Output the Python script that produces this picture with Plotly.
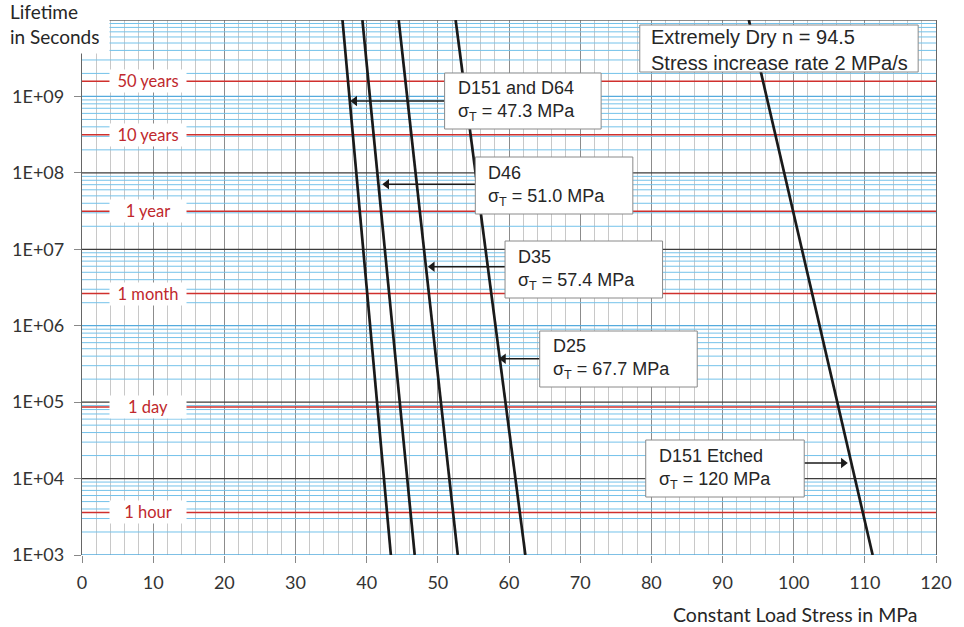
import math
import plotly.graph_objects as go

# ---------------- data ----------------
series_names = ["D151 and D64", "D46", "D35", "D25", "D151 Etched"]
sigma_T = ["47.3", "51.0", "57.4", "67.7", "120"]
lifetime_ends = [1e10, 1e3]                      # seconds (top, bottom of each line)
stress_top = [36.6, 39.4, 44.5, 52.5, 93.7]       # MPa at 1E+10 s
stress_bottom = [43.4, 46.75, 52.8, 62.3, 111.1]  # MPa at 1E+03 s

# arrows: tip on each curve, tail at the label box (stress MPa), lifetime s
arrow_tip = [37.7, 42.2, 48.6, 58.6, 107.6]
arrow_tail = [50.95, 55.27, 59.44, 64.32, 101.49]
arrow_life = [8.7e8, 7.1e7, 5.9e6, 3.7e5, 1.6e4]

time_labels = ["50 years", "10 years", "1 year", "1 month", "1 day", "1 hour"]
time_seconds = [1.5768e9, 3.1536e8, 3.1536e7, 2.6298e6, 86400, 3600]

x_ticks = list(range(0, 121, 10))
y_ticks = [1e3, 1e4, 1e5, 1e6, 1e7, 1e8, 1e9]
y_ticktext = ["1E+03", "1E+04", "1E+05", "1E+06", "1E+07", "1E+08", "1E+09"]

info_text = "Extremely Dry n = 94.5<br>Stress increase rate 2 MPa/s"

# ---------------- layout geometry (pixels) ----------------
W, H = 964, 627
PL, PR, PT, PB = 82, 944, 20, 555
PX_PER_MPA = (PR - PL) / 120


def px(xp):
    return (xp - PL) / (PR - PL)


def py(yp):
    return (PB - yp) / (PB - PT)


CAL = "Lato"
ARIAL = "Liberation Sans, Arial"

fig = go.Figure()

# horizontal minor grid (log), blue
mx, my = [], []
for d in range(3, 10):
    for m in range(2, 10):
        mx += [0, 120, None]
        my += [m * 10 ** d, m * 10 ** d, None]
fig.add_trace(go.Scatter(x=mx, y=my, mode="lines", line=dict(color="#74C2EA", width=1),
                         hoverinfo="skip", showlegend=False))
# major decade lines
bx, by, ux, uy = [], [], [], []
for d in range(3, 10):
    if d in (3, 6, 9):
        ux += [0, 120, None]
        uy += [10 ** d, 10 ** d, None]
    else:
        bx += [0, 120, None]
        by += [10 ** d, 10 ** d, None]
fig.add_trace(go.Scatter(x=ux, y=uy, mode="lines", line=dict(color="#55ABDD", width=1.3),
                         hoverinfo="skip", showlegend=False))
fig.add_trace(go.Scatter(x=bx, y=by, mode="lines", line=dict(color="#3C3C3C", width=1.3),
                         hoverinfo="skip", showlegend=False))
# top border
fig.add_trace(go.Scatter(x=[0, 120], y=[1e10, 1e10], mode="lines",
                         line=dict(color="#666666", width=1.3),
                         hoverinfo="skip", showlegend=False))
# red time lines
rx, ry = [], []
for s in time_seconds:
    rx += [0, 120, None]
    ry += [s, s, None]
fig.add_trace(go.Scatter(x=rx, y=ry, mode="lines", line=dict(color="#D0302D", width=1.5),
                         hoverinfo="skip", showlegend=False))

# lifetime curves
for name, s0, s1 in zip(series_names, stress_top, stress_bottom):
    fig.add_trace(go.Scatter(x=[s0, s1], y=lifetime_ends, mode="lines", name=name,
                             line=dict(color="#1A1A1A", width=2.7),
                             hoverinfo="skip", showlegend=False))

# arrows (line + triangle head)
HEAD = 9
for tip, tail, life in zip(arrow_tip, arrow_tail, arrow_life):
    d = 1 if tail > tip else -1
    center = tip + d * (HEAD / 2) / PX_PER_MPA
    fig.add_trace(go.Scatter(x=[tail, center], y=[life, life], mode="lines",
                             line=dict(color="#1A1A1A", width=1.5),
                             hoverinfo="skip", showlegend=False))
    fig.add_trace(go.Scatter(x=[center], y=[life], mode="markers",
                             marker=dict(symbol="triangle-left" if d == 1 else "triangle-right",
                                         size=HEAD, color="#1A1A1A", line=dict(width=0)),
                             hoverinfo="skip", showlegend=False))

# ---------------- boxes ----------------
boxes = [  # (left, top, right, bottom, text-left) in pixels
    (448, 73, 606, 129, 459),
    (479, 157, 638, 214, 490),
    (509, 241, 668, 298, 520),
    (544, 331, 703, 387, 555),
    (651, 440, 811, 497, 662),
]
shapes = []
annotations = []
for (l, t, r, b, tl), name, sg in zip(boxes, series_names, sigma_T):
    shapes.append(dict(type="rect", xref="paper", yref="paper", x0=px(l), x1=px(r),
                       y0=py(b), y1=py(t), fillcolor="white",
                       line=dict(color="#8A8A8A", width=1), layer="above"))
    annotations.append(dict(xref="paper", yref="paper", x=px(tl), y=py((t + b) / 2),
                            xanchor="left", yanchor="middle", align="left", showarrow=False,
                            text=f"{name}<br>σ<sub>T</sub> = {sg} MPa",
                            font=dict(family=ARIAL, size=18, color="#262626")))
# info box
shapes.append(dict(type="rect", xref="paper", yref="paper", x0=px(645), x1=px(926),
                   y0=py(72), y1=py(25), fillcolor="white",
                   line=dict(color="#8A8A8A", width=1), layer="above"))
annotations.append(dict(xref="paper", yref="paper", x=px(654), y=py(49.5),
                        xanchor="left", yanchor="middle", align="left", showarrow=False,
                        text=info_text, font=dict(family=ARIAL, size=20, color="#262626")))

# time labels
for lab, s in zip(time_labels, time_seconds):
    annotations.append(dict(xref="x", yref="y", x=9.3, y=math.log10(s), text=lab,
                            showarrow=False, bgcolor="white", width=72, height=18,
                            borderpad=2, font=dict(family=CAL, size=16.5, color="#C0282D")))

# axis titles
annotations.append(dict(xref="paper", yref="paper", x=px(6), y=py(-3), xanchor="left",
                        yanchor="top", align="left", valign="top", showarrow=False,
                        text="Lifetime<br>in Seconds", bgcolor="white", width=97, height=51,
                        borderpad=2, font=dict(family=CAL, size=19, color="#262626")))
annotations.append(dict(xref="paper", yref="paper", x=px(927), y=py(614), xanchor="right",
                        yanchor="middle", showarrow=False, text="Constant Load Stress in MPa",
                        font=dict(family=CAL, size=19.5, color="#262626")))

fig.update_layout(
    width=W, height=H,
    margin=dict(l=PL, r=W - PR, t=PT, b=H - PB, pad=0),
    paper_bgcolor="white", plot_bgcolor="white",
    shapes=shapes, annotations=annotations, showlegend=False,
    xaxis=dict(range=[0, 120], tickvals=x_ticks, showgrid=True, gridcolor="#8C8C8C",
               gridwidth=1, zeroline=False, showline=False, ticks="outside", ticklen=7,
               tickcolor="#888888", ticklabelstandoff=4,
               tickfont=dict(family=CAL, size=18, color="#333333"),
               minor=dict(dtick=2, tick0=0, showgrid=True, gridcolor="#C8C8C8", gridwidth=1)),
    yaxis=dict(type="log", range=[3, 10], tickvals=y_ticks, ticktext=y_ticktext,
               showgrid=False, zeroline=False, showline=True, linecolor="#666666",
               linewidth=1.3, mirror=True, ticks="outside", ticklen=7, tickcolor="#888888",
               ticklabelstandoff=6,
               tickfont=dict(family=CAL, size=18, color="#333333")),
)

fig.write_html("out.html")
